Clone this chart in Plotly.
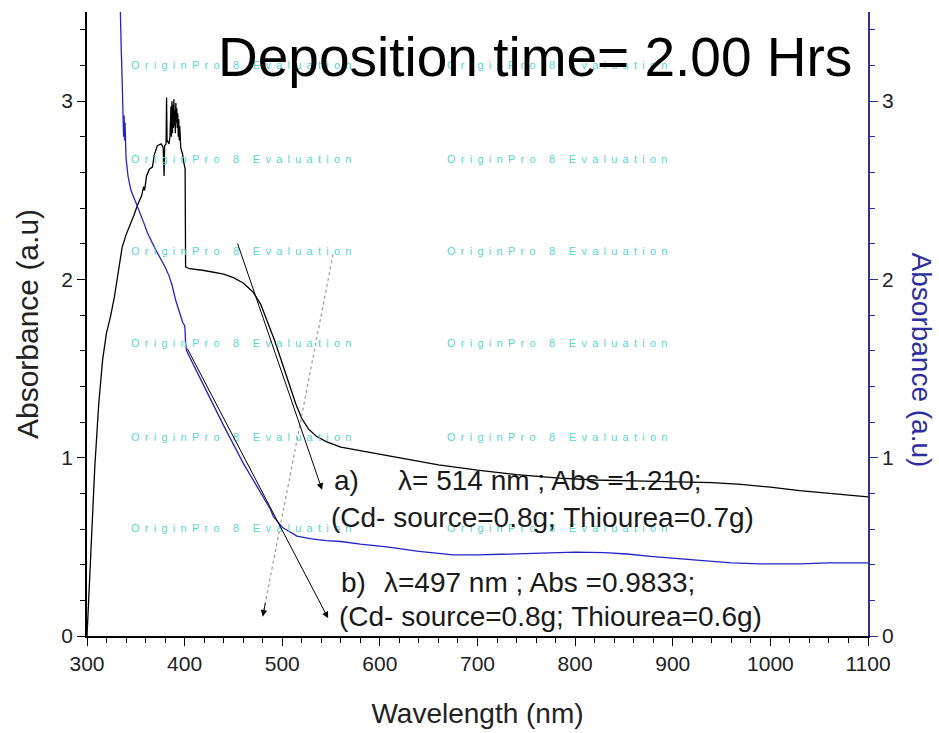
import plotly.graph_objects as go

# ---------------- data ----------------
black_wl = [300, 304, 308, 312, 316, 320, 324, 328, 332, 336, 340, 344, 348, 352, 356, 358, 359, 361, 364, 367,
            369, 372, 376, 378, 379, 379.5, 381, 381.5, 382, 384, 385, 386, 386.5, 387, 387.5, 388, 388.5, 389,
            389.5, 390, 390.5, 391, 391.5, 392, 392.5, 393, 393.5, 394, 394.5, 395, 396, 397, 398, 399, 400.5,
            401, 405, 420, 440, 450, 460, 470, 478, 485, 492, 500, 507, 514, 520, 527, 535, 545, 560, 580, 600,
            630, 660, 700, 740, 784, 820, 860, 900, 940, 970, 1000, 1030, 1060, 1100]
black_abs = [0.00, 0.45, 0.95, 1.30, 1.55, 1.70, 1.79, 1.90, 2.05, 2.18, 2.25, 2.30, 2.36, 2.42, 2.47, 2.52, 2.50,
             2.58, 2.62, 2.63, 2.70, 2.75, 2.76, 2.74, 2.58, 2.75, 2.76, 3.02, 2.78, 2.76, 2.80, 2.97, 2.80, 3.00,
             2.82, 2.98, 2.85, 3.01, 2.86, 2.95, 2.82, 2.99, 2.88, 2.96, 2.85, 2.93, 2.80, 2.90, 2.78, 2.86, 2.74,
             2.72, 2.70, 2.66, 2.62, 2.07, 2.06, 2.05, 2.03, 2.01, 1.98, 1.93, 1.86, 1.76, 1.66, 1.53, 1.41, 1.30,
             1.22, 1.16, 1.12, 1.09, 1.06, 1.04, 1.02, 0.99, 0.96, 0.93, 0.905, 0.885, 0.875, 0.87, 0.865, 0.86,
             0.85, 0.835, 0.815, 0.80, 0.78]

blue_wl = [333, 334, 335, 335.5, 336, 336.5, 337, 337.5, 338, 338.5, 339, 339.5, 340, 342, 345, 348, 351, 355,
           358, 362, 366, 370, 375, 380, 384, 387, 391, 395, 398, 400, 400.4, 401, 402, 420, 440, 460, 470, 480,
           488, 491, 500, 515, 530, 545, 560, 580, 607, 640, 675, 700, 740, 777, 800, 830, 853, 880, 921, 960,
           990, 1030, 1060, 1100]
blue_abs = [3.80, 3.45, 3.30, 3.22, 3.10, 2.95, 2.93, 2.80, 2.92, 2.78, 2.88, 2.77, 2.68, 2.58, 2.50, 2.46, 2.42,
            2.37, 2.32, 2.26, 2.21, 2.17, 2.12, 2.07, 2.02, 1.97, 1.88, 1.81, 1.76, 1.74, 1.72, 1.64, 1.60, 1.40,
            1.18, 0.97, 0.875, 0.78, 0.71, 0.67, 0.61, 0.56, 0.545, 0.535, 0.53, 0.515, 0.50, 0.475, 0.455, 0.455,
            0.46, 0.468, 0.47, 0.468, 0.46, 0.445, 0.425, 0.41, 0.405, 0.405, 0.41, 0.41]

# tangent arrows: (tail_x, tail_y, head_x, head_y)
arrow_a = (453.7, 2.21, 540.8, 0.82)
arrow_b = (402.0, 1.62, 547.0, 0.10)
arrow_dot = (552.0, 2.14, 480.0, 0.11)

x_ticks = [300, 400, 500, 600, 700, 800, 900, 1000, 1100]
y_ticks = [0, 1, 2, 3]

title_text = "Deposition time= 2.00 Hrs"
x_title = "Wavelength (nm)"
y_title = "Absorbance (a.u)"
label_a1 = "a)"
label_a2 = "λ= 514 nm ; Abs =1.210;"
label_a3 = "(Cd- source=0.8g; Thiourea=0.7g)"
label_b1 = "b)"
label_b2 = "λ=497 nm ; Abs =0.9833;"
label_b3 = "(Cd- source=0.8g; Thiourea=0.6g)"
watermark = "OriginPro 8 Evaluation"
wm_rows_y = [3.200, 2.678, 2.162, 1.641, 1.119, 0.604]
wm_cols_x = [458, 781]

# ---------------- styles ----------------
FONT = "Liberation Sans, Arial, sans-serif"
BLUE_AX = "#2e2e9e"
BLUE_LINE = "#2323c8"

fig = go.Figure()
fig.add_trace(go.Scatter(x=black_wl, y=black_abs, mode="lines",
                         line=dict(color="black", width=1.3), showlegend=False))
fig.add_trace(go.Scatter(x=blue_wl, y=blue_abs, mode="lines", yaxis="y2",
                         line=dict(color=BLUE_LINE, width=1.3), showlegend=False))
# dotted tangent line
fig.add_trace(go.Scatter(x=[arrow_dot[0], arrow_dot[2]], y=[arrow_dot[1], arrow_dot[3]], mode="lines",
                         line=dict(color="#9a9a9a", width=1.2, dash="dot"), showlegend=False))

ann = []
sep = "\u00a0\u2009"
spaced = sep.join(list(watermark))
for yy in wm_rows_y:
    for xx in wm_cols_x:
        ann.append(dict(x=xx, y=yy, xref="x", yref="y", text=spaced, showarrow=False,
                        xanchor="center", yanchor="middle",
                        font=dict(family=FONT, size=11, color="#5ad4d4")))

for tx, ty, hx, hy in [arrow_a, arrow_b]:
    ann.append(dict(x=hx, y=hy, ax=tx, ay=ty, xref="x", yref="y", axref="x", ayref="y",
                    text="", showarrow=True, arrowhead=2, arrowsize=1.3, arrowwidth=1,
                    arrowcolor="black"))
ann.append(dict(x=arrow_dot[2], y=arrow_dot[3], ax=2.9, ay=-14.7, xref="x", yref="y",
                text="", showarrow=True, arrowhead=2, arrowsize=1.3, arrowwidth=1, arrowcolor="black"))

def txt(x, y, s):
    return dict(x=x, y=y, xref="x", yref="y", text=s, showarrow=False, xanchor="left",
                yanchor="middle", font=dict(family=FONT, size=28, color="#1a1a1a"))

ann += [txt(551, 0.875, label_a1), txt(617, 0.875, label_a2), txt(548, 0.667, label_a3),
        txt(558, 0.30, label_b1), txt(602, 0.30, label_b2), txt(556, 0.107, label_b3)]

ann.append(dict(x=0.574, y=0.928, xref="paper", yref="paper", text=title_text, showarrow=False,
                xanchor="center", yanchor="middle", font=dict(family=FONT, size=55, color="black")))
ann.append(dict(x=1.0, y=0.443, xref="paper", yref="paper", text=y_title, showarrow=False,
                textangle=90, xanchor="center", yanchor="middle", xshift=53,
                font=dict(family=FONT, size=28, color=BLUE_AX)))

fig.update_layout(
    width=939, height=733,
    margin=dict(l=87, r=71, t=12, b=97),
    paper_bgcolor="white", plot_bgcolor="white",
    font=dict(family=FONT, color="#222222"),
    annotations=ann,
    xaxis=dict(range=[300, 1100], tickvals=x_ticks, ticks="outside", ticklen=8, tickwidth=1.3,
               tickcolor="black", showline=True, linecolor="black", linewidth=1.5, showgrid=False,
               zeroline=False, tickfont=dict(size=21, color="#222222"), automargin=False,
               minor=dict(ticks="outside", dtick=20, ticklen=5, tickcolor="black", tickwidth=1.2),
               title=dict(text=x_title, font=dict(size=28, color="#222222"), standoff=29)),
    xaxis2=dict(range=[300, 1100], overlaying="x", side="top", anchor="y", ticks="inside",
                tickvals=x_ticks, ticklen=7, tickcolor="black", showticklabels=False, automargin=False,
                showline=True, linecolor="black", linewidth=1.5, showgrid=False, zeroline=False,
                minor=dict(ticks="inside", dtick=20, ticklen=5, tickcolor="black")),
    yaxis=dict(range=[0, 3.5], tickvals=y_ticks, ticks="outside", ticklen=8, tickwidth=1.3,
               tickcolor="black", showline=True, linecolor="black", linewidth=1.5, showgrid=False,
               zeroline=False, tickfont=dict(size=21, color="#222222"), automargin=False,
               minor=dict(ticks="outside", dtick=0.2, ticklen=5, tickcolor="black"),
               title=dict(text=y_title, font=dict(size=30, color="#222222"), standoff=14)),
    yaxis2=dict(range=[0, 3.5], overlaying="y", side="right", tickvals=y_ticks, ticks="outside",
                ticklen=8, tickwidth=1.3, tickcolor=BLUE_AX, showline=True, linecolor=BLUE_AX,
                linewidth=1.5, showgrid=False, zeroline=False, automargin=False,
                tickfont=dict(size=21, color="#222222"),
                minor=dict(ticks="outside", dtick=0.2, ticklen=5, tickcolor=BLUE_AX)),
)

fig.write_html("out.html")
